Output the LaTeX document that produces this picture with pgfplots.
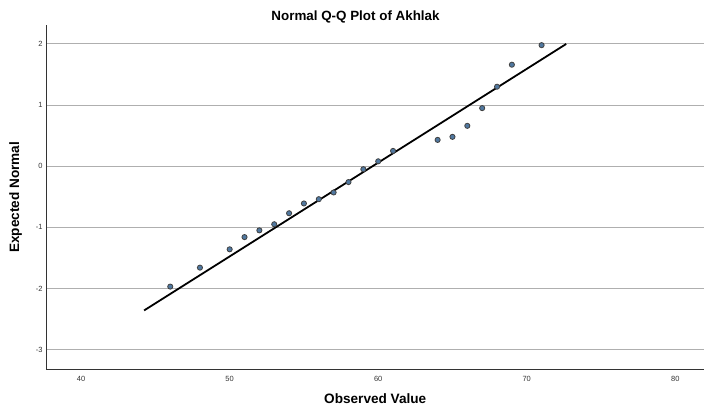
\documentclass[border=0pt]{standalone}
\usepackage{pgfplots}
\pgfplotsset{compat=1.18}
\usepackage{fontspec}
\setmainfont{Liberation Sans}
\definecolor{ptfill}{RGB}{80,120,160}
\definecolor{gridc}{RGB}{175,175,175}
\begin{document}
\begin{tikzpicture}
\begin{axis}[
  scale only axis, width=657pt, height=345pt,
  xmin=37.7, xmax=81.9, ymin=-3.33, ymax=2.31,
  axis x line*=bottom, axis y line*=left,
  axis line style={line width=1pt, color=black!80},
  xtick={40,50,60,70,80}, ytick={-3,-2,-1,0,1,2},
  ymajorgrids, grid style={gridc, line width=0.9pt},
  tick style={draw=none},
  ticklabel style={font=\fontsize{7.5}{8}\selectfont, text=black!80},
  /pgf/number format/assume math mode=true,
  xticklabel style={yshift=-3pt},
  yticklabel style={xshift=-1pt},
  xlabel={\textbf{Observed Value}}, ylabel={\textbf{Expected Normal}},
  label style={font=\fontsize{13.6}{15}\selectfont},
  xlabel style={yshift=-5pt},
  ylabel style={yshift=7pt},
  title={\textbf{Normal Q-Q Plot of Akhlak}},
  title style={font=\fontsize{13.4}{15}\selectfont, at={(rel axis cs:0.470,1)}, anchor=south, yshift=-8pt},
  clip=false,
]
\addplot[black, line width=1.8pt] coordinates {(44.24,-2.36) (72.66,2.0)};
\addplot[only marks, mark=*, mark size=2.6pt, mark options={fill=ptfill, draw=black!75, line width=0.8pt}] coordinates {
(46,-1.97) (48,-1.66) (50,-1.36) (51,-1.16) (52,-1.05) (53,-0.95) (54,-0.77)
(55,-0.61) (56,-0.54) (57,-0.43) (58,-0.26) (59,-0.05) (60,0.08) (61,0.25)
(64,0.43) (65,0.48) (66,0.66) (67,0.95) (68,1.30) (69,1.66) (71,1.98)};
\end{axis}
\path[use as bounding box] ([shift={(-47pt,-44pt)}]current axis.south west) rectangle ([shift={(0pt,25pt)}]current axis.north east);
\end{tikzpicture}
\end{document}
